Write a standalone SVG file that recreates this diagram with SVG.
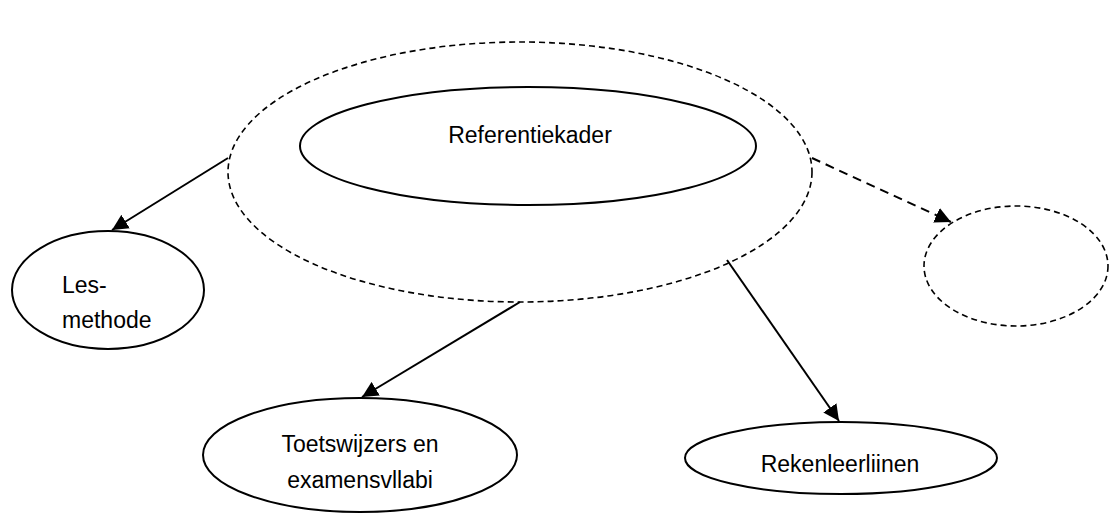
<svg xmlns="http://www.w3.org/2000/svg" width="1111" height="514" viewBox="0 0 1111 514">
<defs>
<marker id="ah" viewBox="0 0 10 10" refX="10" refY="5" markerWidth="8" markerHeight="8" markerUnits="strokeWidth" orient="auto">
<path d="M0,0 L10,5 L0,10 z" fill="#000"/>
</marker>
<style>
.solid{fill:#fff;stroke:#000;stroke-width:2}
.dash{fill:none;stroke:#000;stroke-width:1.6;stroke-dasharray:6 4}
.t{font-family:"Liberation Sans",Arial,sans-serif;font-size:23px;fill:#000}
.c{stroke:#000;stroke-width:2;fill:none}
.cd{stroke:#000;stroke-width:2;fill:none;stroke-dasharray:9 6}
</style>
</defs>
<rect width="1111" height="514" fill="#fff"/>
<g id="outer">
<ellipse class="dash" cx="520" cy="172" rx="292" ry="130"/>
</g>
<g id="referentiekader">
<ellipse class="solid" cx="528" cy="146" rx="228" ry="59"/>
<text class="t" x="530" y="143" text-anchor="middle">Referentiekader</text>
</g>
<g id="lesmethode">
<ellipse class="solid" cx="108" cy="290" rx="96" ry="59"/>
<text class="t" x="62" y="293">Les-</text>
<text class="t" x="62" y="328">methode</text>
</g>
<g id="toetswijzers">
<ellipse class="solid" cx="360" cy="455" rx="157" ry="57"/>
<text class="t" x="360" y="452" text-anchor="middle">Toetswijzers en</text>
<text class="t" x="360" y="488" text-anchor="middle">examensvllabi</text>
</g>
<g id="rekenleerlijnen">
<ellipse class="solid" cx="841" cy="458" rx="156" ry="36"/>
<text class="t" x="840" y="472" text-anchor="middle">Rekenleerliinen</text>
</g>
<g id="empty">
<ellipse class="dash" cx="1016" cy="266" rx="92" ry="60"/>
</g>
<g id="connectors">
<line class="c" x1="228" y1="158" x2="112" y2="230" marker-end="url(#ah)"/>
<line class="c" x1="520" y1="302" x2="362" y2="397" marker-end="url(#ah)"/>
<line class="c" x1="727" y1="260" x2="839" y2="421" marker-end="url(#ah)"/>
<line class="cd" x1="812" y1="158" x2="951" y2="222" marker-end="url(#ah)"/>
</g>
</svg>
